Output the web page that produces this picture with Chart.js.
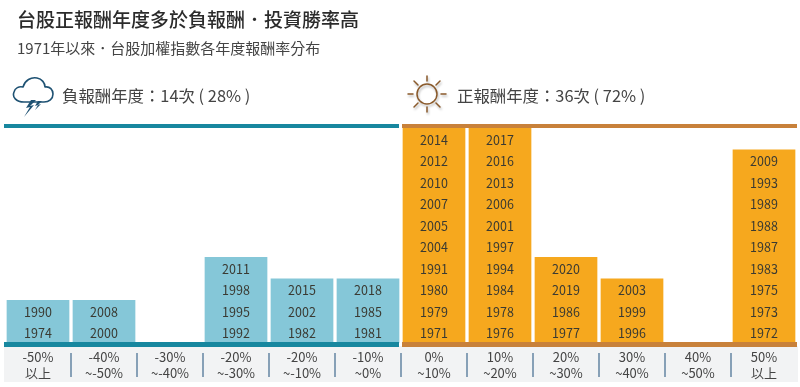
<!DOCTYPE html>
<html lang="zh-Hant">
<head>
<meta charset="utf-8">
<title>台股正報酬年度</title>
<script src="https://cdn.jsdelivr.net/npm/chart.js@4/dist/chart.umd.min.js"></script>
<style>
    html, body { margin: 0; padding: 0; background: #fff; }
    #wrap { position: relative; width: 800px; height: 387px; overflow: hidden; font-family: "Noto Sans CJK TC", sans-serif; color: #333; }
    #wrap canvas { position: absolute; left: 0; top: 0; }
    .txt { position: absolute; white-space: nowrap; line-height: 1; }
    #title { left: 17px; top: 9px; font-size: 19px; font-weight: 500; color: #2b2b2b; }
    #sub { left: 17px; top: 40px; font-size: 15px; color: #444; }
    .head { top: 87px; font-size: 16.4px; color: #444; }
    svg { position: absolute; overflow: visible; }
</style>
</head>
<body>
<div id="wrap">
    <canvas id="yearChart" width="800" height="387"></canvas>
    <div class="txt" id="title">台股正報酬年度多於負報酬．投資勝率高</div>
    <div class="txt" id="sub">1971年以來．台股加權指數各年度報酬率分布</div>
    <div class="txt head" style="left:62px">負報酬年度：14次 ( 28% )</div>
    <div class="txt head" style="left:457px">正報酬年度：36次 ( 72% )</div>

    <!-- cloud -->
    <svg style="left:12px;top:76px" width="44" height="44" viewBox="0 0 44 44">
        <path d="M12 26 C4 26 0 21 2 16 C3 12 7 10 11 11 C13 4 19 1 25 2 C30 3 33 7 33 11 C38 10 41 14 41 18 C41 23 37 26 32 26 Z" fill="none" stroke="#1f5273" stroke-width="1.6" stroke-linejoin="round"/>
        <path d="M19 24 L14 32 L18 31 L12 41 L22 29 L18 30 L24 24 Z M26 25 L23 30 L26 29 L23 34 L29 28 L26 29 L30 25 Z" fill="#1f5273"/>
    </svg>
    <!-- sun -->
    <svg style="left:407px;top:74px;filter:drop-shadow(1px 2px 1px #bbb)" width="40" height="40" viewBox="0 0 40 40" fill="none" stroke="#8a5a2b" stroke-width="1.5" stroke-linecap="round">
        <circle cx="20" cy="20" r="10"/>
        <path d="M20 2 V7 M20 33 V38 M1 20 H6 M34 20 H39 M7 7 L11 11 M29 29 L33 33 M33 7 L29 11 M11 29 L7 33"/>
    </svg>
</div>

<script>
const binLabels = [
    ["-50%", "以上"], ["-40%", "~-50%"], ["-30%", "~-40%"], ["-20%", "~-30%"],
    ["-20%", "~-10%"], ["-10%", "~0%"], ["0%", "~10%"], ["10%", "~20%"],
    ["20%", "~30%"], ["30%", "~40%"], ["40%", "~50%"], ["50%", "以上"]
];

// years in each bin, bottom of the bar first
const binYears = [
    [1974, 1990],
    [2000, 2008],
    [],
    [1992, 1995, 1998, 2011],
    [1982, 2002, 2015],
    [1981, 1985, 2018],
    [1971, 1979, 1980, 1991, 2004, 2005, 2007, 2010, 2012, 2014],
    [1976, 1978, 1984, 1994, 1997, 2001, 2006, 2013, 2016, 2017],
    [1977, 1986, 2019, 2020],
    [1996, 1999, 2003],
    [],
    [1972, 1973, 1975, 1983, 1987, 1988, 1989, 1993, 2009]
];

const yearCounts = [2, 2, 0, 4, 3, 3, 10, 10, 4, 3, 0, 9];
const lossBins = 6;

const tealBar = "#85c7d8";
const tealLine = "#17879f";
const orangeBar = "#f6a81e";
const orangeLine = "#c8813a";
const fontName = '"Noto Sans CJK TC", sans-serif';

const backdropPlugin = {
    id: "backdrop",
    beforeDraw(chart) {
        const { ctx, scales: { x, y } } = chart;
        const base = y.getPixelForValue(0);
        ctx.save();
        ctx.fillStyle = "#f2f3f4";
        ctx.fillRect(x.left - 1, base + 3, x.width + 2, 36);
        ctx.restore();
    }
};

const overlayPlugin = {
    id: "overlay",
    afterDatasetsDraw(chart) {
        const { ctx, scales: { x, y } } = chart;
        const half = (x.getPixelForValue(1) - x.getPixelForValue(0)) / 2;
        const split = x.getPixelForValue(lossBins - 1) + half;
        const base = y.getPixelForValue(0);
        const top = y.getPixelForValue(10);
        ctx.save();

        // years inside the bars
        ctx.fillStyle = "#3a3a32";
        ctx.font = "12.5px " + fontName;
        ctx.textAlign = "center";
        ctx.textBaseline = "middle";
        binYears.forEach((years, i) => {
            years.forEach((year, row) => {
                ctx.fillText(year, x.getPixelForValue(i), y.getPixelForValue(row + 0.45));
            });
        });

        // the heavy rules above and below the bars
        ctx.fillStyle = tealLine;
        ctx.fillRect(x.left - 1, top - 4, split - x.left - 1, 4);
        ctx.fillRect(x.left - 1, base - 1, split - x.left - 1, 5);
        ctx.fillStyle = orangeLine;
        ctx.fillRect(split + 1, top - 4, x.right - split - 1, 4);
        ctx.fillRect(split + 1, base - 1, x.right - split - 1, 5);

        // dividers between the bin labels
        ctx.strokeStyle = "#4d7396";
        ctx.lineWidth = 1.3;
        for (let i = 0; i < binLabels.length - 1; i++) {
            const px = x.getPixelForValue(i) + half;
            ctx.beginPath();
            ctx.moveTo(px, base + 10);
            ctx.lineTo(px, base + 34);
            ctx.stroke();
        }
        ctx.restore();
    }
};

new Chart(document.getElementById("yearChart"), {
    type: "bar",
    data: {
        labels: binLabels,
        datasets: [{
            data: yearCounts,
            backgroundColor: yearCounts.map((_, i) => i < lossBins ? tealBar : orangeBar),
            barPercentage: 1,
            categoryPercentage: 0.95
        }]
    },
    options: {
        responsive: false,
        animation: false,
        layout: { padding: { left: 5, right: 3, top: 128, bottom: 0 } },
        plugins: { legend: { display: false }, tooltip: { enabled: false } },
        scales: {
            x: {
                grid: { display: false },
                border: { display: false },
                afterFit(axis) { axis.height = 44; },
                ticks: {
                    color: "#444",
                    padding: -2,
                    maxRotation: 0,
                    autoSkip: false,
                    font: { family: fontName, size: 13, lineHeight: 1.23 }
                }
            },
            y: { display: false, min: 0, max: 10 }
        }
    },
    plugins: [backdropPlugin, overlayPlugin]
});
</script>
</body>
</html>
